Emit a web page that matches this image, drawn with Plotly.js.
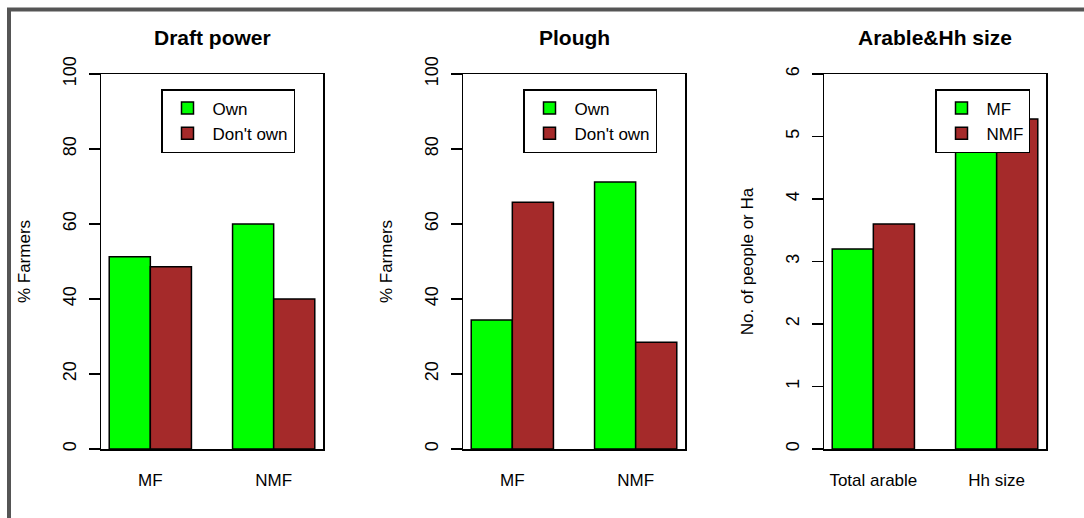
<!DOCTYPE html>
<html>
<head>
<meta charset="utf-8">
<script src="https://cdn.plot.ly/plotly-3.0.1.min.js"></script>
<style>
  html, body { margin: 0; padding: 0; background: #ffffff; }
  #chart { width: 1084px; height: 518px; }
</style>
</head>
<body>
<div id="chart"></div>
<script>
// ---- data ----
const groups = ["MF", "NMF"];
const draftOwn = [51.3, 60.0];
const draftDontOwn = [48.6, 40.0];
const ploughOwn = [34.4, 71.2];
const ploughDontOwn = [65.8, 28.5];
const arableCategories = ["Total arable", "Hh size"];
const arableMF = [3.2, 5.0];
const arableNMF = [3.6, 5.28];
const panelTitles = ["Draft power", "Plough", "Arable&Hh size"];
const yTitles = ["% Farmers", "% Farmers", "No. of people or Ha"];
const legendOwn = ["Own", "Don't own"];
const legendGroup = ["MF", "NMF"];

const GREEN = "#00FF00";
const BROWN = "#A52A2A";
const FONT = "Liberation Sans, Arial, Helvetica, sans-serif";

function barTrace(x, y, name, color, xa, ya, legend) {
  return {
    type: "bar", x: x, y: y, name: name,
    xaxis: xa, yaxis: ya, legend: legend,
    marker: { color: color, line: { color: "#000000", width: 1.5 } },
    hoverinfo: "x+y+name"
  };
}

const traces = [
  barTrace(groups, draftOwn, legendOwn[0], GREEN, "x", "y", "legend"),
  barTrace(groups, draftDontOwn, legendOwn[1], BROWN, "x", "y", "legend"),
  barTrace(groups, ploughOwn, legendOwn[0], GREEN, "x2", "y2", "legend2"),
  barTrace(groups, ploughDontOwn, legendOwn[1], BROWN, "x2", "y2", "legend2"),
  barTrace(arableCategories, arableMF, legendGroup[0], GREEN, "x3", "y3", "legend3"),
  barTrace(arableCategories, arableNMF, legendGroup[1], BROWN, "x3", "y3", "legend3")
];

const W = 1084, H = 518;
const px = v => v / W;
const py = v => 1 - v / H;
const panelLeft = [101, 463, 824];
const panelWidth = 222;
const plotTop = 74, plotBottom = 449;

function xAxis(i) {
  return {
    domain: [px(panelLeft[i]), px(panelLeft[i] + panelWidth)],
    anchor: i === 0 ? "y" : "y" + (i + 1),
    type: "category",
    range: [-0.4, 1.4],
    showline: true, linecolor: "#000000", linewidth: 1.5, mirror: true,
    ticks: "", showgrid: false, zeroline: false,
    ticklabelstandoff: 15,
    tickfont: { family: FONT, size: 17, color: "#000000" },
    fixedrange: true
  };
}
function yAxis(i, maxV, dtick) {
  return {
    domain: [py(plotBottom), py(plotTop)],
    anchor: i === 0 ? "x" : "x" + (i + 1),
    range: [0, maxV], dtick: dtick, tick0: 0,
    showline: true, linecolor: "#000000", linewidth: 1.5, mirror: true,
    ticks: "outside", ticklen: 11, tickwidth: 1.5, tickcolor: "#000000",
    tickangle: -90,
    ticklabelstandoff: 5,
    showgrid: false, zeroline: false,
    tickfont: { family: FONT, size: 18, color: "#000000" },
    title: { text: yTitles[i], standoff: 25, font: { family: FONT, size: 17, color: "#000000" } },
    fixedrange: true
  };
}
function legendBox(i) {
  const lx = [161, 523, 935][i];
  return {
    x: px(lx), y: py(89), xanchor: "left", yanchor: "top",
    bgcolor: "#ffffff", bordercolor: "#000000", borderwidth: 1.5,
    font: { family: FONT, size: 17, color: "#000000" },
    itemwidth: 40,
    traceorder: "normal", tracegroupgap: 0
  };
}

const annotations = panelTitles.map((t, i) => ({
  text: "<b>" + t + "</b>",
  xref: "paper", yref: "paper",
  x: px(panelLeft[i] + panelWidth / 2), y: py(38),
  xanchor: "center", yanchor: "middle", showarrow: false,
  font: { family: FONT, size: 21, color: "#000000" }
}));

const layout = {
  width: W, height: H,
  margin: { l: 0, r: 0, t: 0, b: 0 },
  paper_bgcolor: "#ffffff", plot_bgcolor: "#ffffff",
  barmode: "group", bargap: 1 / 3, bargroupgap: 0,
  showlegend: true,
  xaxis: xAxis(0), xaxis2: xAxis(1), xaxis3: xAxis(2),
  yaxis: yAxis(0, 100, 20), yaxis2: yAxis(1, 100, 20), yaxis3: yAxis(2, 6, 1),
  legend: legendBox(0), legend2: legendBox(1), legend3: legendBox(2),
  annotations: annotations,
  shapes: [{
    type: "path", xref: "paper", yref: "paper",
    path: "M " + px(9) + " 0 L " + px(9) + " " + py(9.5) + " L 1 " + py(9.5),
    line: { color: "#555555", width: 4 }
  }]
};

Plotly.newPlot("chart", traces, layout, { displayModeBar: false, staticPlot: true });
</script>
</body>
</html>
